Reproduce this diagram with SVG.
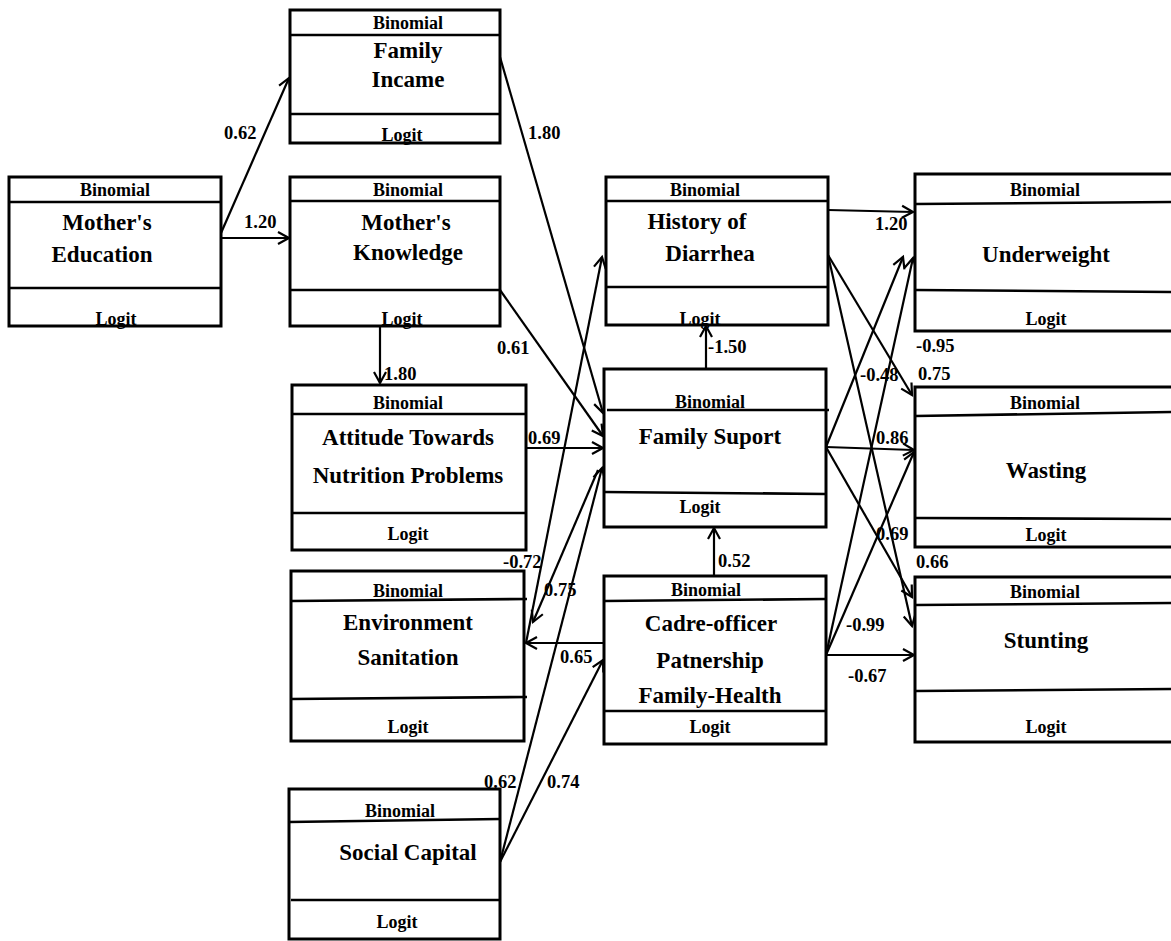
<svg xmlns="http://www.w3.org/2000/svg" width="1171" height="941" viewBox="0 0 1171 941">
<defs>
<marker id="arr" markerUnits="userSpaceOnUse" markerWidth="16" markerHeight="16" viewBox="0 0 16 16" refX="13" refY="8" orient="auto">
<path d="M2,2 L13,8 L2,14" fill="none" stroke="#000" stroke-width="2.2"/>
</marker>
</defs>
<style>
.box{fill:#fff;stroke:#000;stroke-width:3}
.div{stroke:#000;stroke-width:2.6}
.hd{font-family:"Liberation Serif","Times New Roman",serif;font-weight:bold;font-size:18px;text-anchor:middle;fill:#000}
.ti{font-family:"Liberation Serif","Times New Roman",serif;font-weight:bold;font-size:23px;text-anchor:middle;fill:#000}
.lb{font-family:"Liberation Serif","Times New Roman",serif;font-weight:bold;font-size:18.5px;fill:#000}
.cn line,.cn path{stroke:#000;stroke-width:2.2;fill:none;marker-end:url(#arr)}
</style>
<rect width="1171" height="941" fill="#fff"/>

<g class="cn" id="connectors">
<line x1="221" y1="233" x2="289" y2="78"/>
<line x1="221" y1="238" x2="289" y2="238"/>
<line x1="500" y1="57" x2="603" y2="413"/>
<line x1="500" y1="290" x2="603" y2="436"/>
<line x1="380" y1="326" x2="380" y2="383"/>
<line x1="526" y1="448" x2="603" y2="448"/>
<line x1="500" y1="862" x2="602" y2="468"/>
<line x1="598" y1="470" x2="533" y2="622"/>
<line x1="526" y1="643" x2="602" y2="257"/>
<line x1="604" y1="643" x2="526" y2="643"/>
<line x1="500" y1="862" x2="603" y2="660"/>
<line x1="706" y1="369" x2="706" y2="326"/>
<line x1="714" y1="576" x2="714" y2="528"/>
<line x1="828" y1="210" x2="913" y2="212"/>
<line x1="828" y1="255" x2="912" y2="395"/>
<line x1="828" y1="255" x2="912" y2="626"/>
<line x1="826" y1="447" x2="903" y2="257"/>
<line x1="826" y1="447" x2="914" y2="450"/>
<line x1="826" y1="447" x2="912" y2="597"/>
<line x1="826" y1="655" x2="913" y2="258"/>
<line x1="826" y1="655" x2="914" y2="452"/>
<line x1="826" y1="655" x2="914" y2="655"/>
</g>

<g id="edge-labels">
<text class="lb" x="224" y="139">0.62</text>
<text class="lb" x="244" y="228">1.20</text>
<text class="lb" x="528" y="139">1.80</text>
<text class="lb" x="497" y="354">0.61</text>
<text class="lb" x="384" y="380">1.80</text>
<text class="lb" x="528" y="444">0.69</text>
<text class="lb" x="503" y="568">-0.72</text>
<text class="lb" x="544" y="596">0.75</text>
<text class="lb" x="560" y="663">0.65</text>
<text class="lb" x="484" y="788">0.62</text>
<text class="lb" x="547" y="788">0.74</text>
<text class="lb" x="708" y="353">-1.50</text>
<text class="lb" x="718" y="567">0.52</text>
<text class="lb" x="875" y="230">1.20</text>
<text class="lb" x="916" y="352">-0.95</text>
<text class="lb" x="918" y="380">0.75</text>
<text class="lb" x="860" y="381">-0.48</text>
<text class="lb" x="876" y="444">0.86</text>
<text class="lb" x="876" y="540">0.69</text>
<text class="lb" x="916" y="568">0.66</text>
<text class="lb" x="846" y="631">-0.99</text>
<text class="lb" x="848" y="682">-0.67</text>
</g>

<g id="family-income">
<rect class="box" x="290" y="10" width="210" height="133"/>
<line class="div" x1="290" y1="35" x2="500" y2="35"/>
<line class="div" x1="290" y1="114" x2="500" y2="114"/>
<text class="hd" x="408" y="29">Binomial</text>
<text class="ti" x="408" y="58">Family</text>
<text class="ti" x="408" y="87">Incame</text>
<text class="hd" x="402" y="141">Logit</text>
</g>

<g id="mothers-education">
<rect class="box" x="9" y="177" width="212" height="149"/>
<line class="div" x1="9" y1="202" x2="221" y2="202"/>
<line class="div" x1="9" y1="288" x2="221" y2="288"/>
<text class="hd" x="115" y="196">Binomial</text>
<text class="ti" x="107" y="230">Mother's</text>
<text class="ti" x="102" y="262">Education</text>
<text class="hd" x="116" y="325">Logit</text>
</g>

<g id="mothers-knowledge">
<rect class="box" x="290" y="177" width="210" height="149"/>
<line class="div" x1="290" y1="201" x2="500" y2="201"/>
<line class="div" x1="290" y1="290" x2="500" y2="290"/>
<text class="hd" x="408" y="196">Binomial</text>
<text class="ti" x="406" y="230">Mother's</text>
<text class="ti" x="408" y="260">Knowledge</text>
<text class="hd" x="402" y="325">Logit</text>
</g>

<g id="attitude">
<rect class="box" x="292" y="385" width="234" height="165"/>
<line class="div" x1="292" y1="414" x2="526" y2="414" stroke-width="4"/>
<line class="div" x1="292" y1="513" x2="527" y2="513"/>
<text class="hd" x="408" y="409">Binomial</text>
<text class="ti" x="408" y="445">Attitude Towards</text>
<text class="ti" x="408" y="483">Nutrition Problems</text>
<text class="hd" x="408" y="540">Logit</text>
</g>

<g id="environment-sanitation">
<rect class="box" x="291" y="571" width="233" height="170"/>
<line class="div" x1="291" y1="601" x2="527" y2="599"/>
<line class="div" x1="291" y1="699" x2="527" y2="697"/>
<text class="hd" x="408" y="597">Binomial</text>
<text class="ti" x="408" y="630">Environment</text>
<text class="ti" x="408" y="665">Sanitation</text>
<text class="hd" x="408" y="733">Logit</text>
</g>

<g id="social-capital">
<rect class="box" x="289" y="789" width="211" height="150"/>
<line class="div" x1="289" y1="822" x2="500" y2="819"/>
<line class="div" x1="291" y1="900" x2="500" y2="900"/>
<text class="hd" x="400" y="817">Binomial</text>
<text class="ti" x="408" y="860">Social Capital</text>
<text class="hd" x="397" y="928" font-weight="normal">Logit</text>
</g>

<g id="history-of-diarrhea">
<rect class="box" x="606" y="177" width="222" height="148"/>
<line class="div" x1="606" y1="201" x2="828" y2="201"/>
<line class="div" x1="606" y1="287" x2="828" y2="287"/>
<text class="hd" x="705" y="196">Binomial</text>
<text class="ti" x="697" y="229">History of</text>
<text class="ti" x="710" y="261">Diarrhea</text>
<text class="hd" x="700" y="325">Logit</text>
</g>

<g id="family-support">
<rect class="box" x="604" y="369" width="222" height="158"/>
<line class="div" x1="607" y1="410" x2="829" y2="410"/>
<line class="div" x1="604" y1="492" x2="826" y2="494"/>
<text class="hd" x="710" y="408">Binomial</text>
<text class="ti" x="710" y="444">Family Suport</text>
<text class="hd" x="700" y="513">Logit</text>
</g>

<g id="cadre-officer">
<rect class="box" x="604" y="576" width="222" height="168"/>
<line class="div" x1="604" y1="601" x2="826" y2="599"/>
<line class="div" x1="604" y1="711" x2="826" y2="711"/>
<text class="hd" x="706" y="596">Binomial</text>
<text class="ti" x="711" y="631">Cadre-officer</text>
<text class="ti" x="710" y="668">Patnership</text>
<text class="ti" x="710" y="703">Family-Health</text>
<text class="hd" x="710" y="733">Logit</text>
</g>

<g id="underweight">
<rect class="box" x="915" y="174" width="262" height="157"/>
<line class="div" x1="915" y1="204" x2="1175" y2="202"/>
<line class="div" x1="915" y1="290" x2="1175" y2="292"/>
<text class="hd" x="1045" y="196">Binomial</text>
<text class="ti" x="1046" y="262">Underweight</text>
<text class="hd" x="1046" y="325">Logit</text>
</g>

<g id="wasting">
<rect class="box" x="915" y="387" width="262" height="160"/>
<line class="div" x1="915" y1="416" x2="1175" y2="412"/>
<line class="div" x1="915" y1="518" x2="1175" y2="519"/>
<text class="hd" x="1045" y="409">Binomial</text>
<text class="ti" x="1046" y="478">Wasting</text>
<text class="hd" x="1046" y="541">Logit</text>
</g>

<g id="stunting">
<rect class="box" x="915" y="577" width="262" height="165"/>
<line class="div" x1="915" y1="605" x2="1175" y2="603"/>
<line class="div" x1="915" y1="691" x2="1175" y2="689"/>
<text class="hd" x="1045" y="598">Binomial</text>
<text class="ti" x="1046" y="648">Stunting</text>
<text class="hd" x="1046" y="733">Logit</text>
</g>
</svg>
